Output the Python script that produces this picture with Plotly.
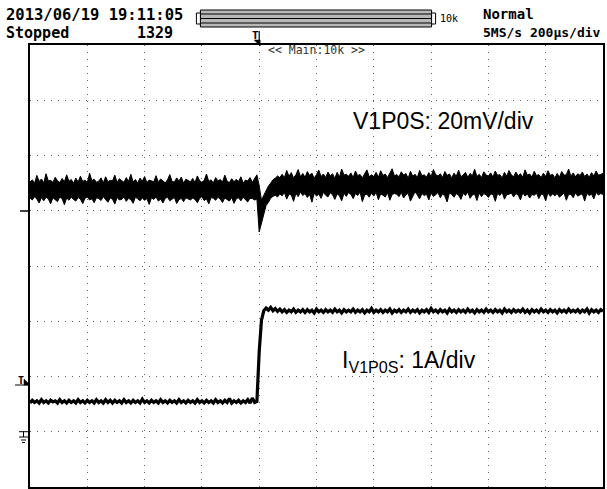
import numpy as np
import plotly.graph_objects as go

# ---------------- data ----------------
# time base: 200 us/div, 10 div, trigger at 4th division (t = 0)
T_START, T_STOP, T_STEP = -800, 1200, 8
time_us = np.arange(T_START, T_STOP + 1, T_STEP)

# V1P0S peak-detect envelope (mV relative to channel marker), 20 mV/div
v1p0s_max_mv = [
    10.4, 11.2, 10.0, 12.8, 10.6, 11.5, 10.1, 13.4, 10.8, 11.0,
    10.3, 12.1, 10.9, 10.2, 11.7, 10.5, 13.0, 10.7, 11.3, 10.0,
    11.8, 10.4, 12.5, 10.6, 11.1, 10.2, 13.6, 10.9, 11.4, 10.3,
    10.7, 11.9, 10.1, 12.3, 10.5, 11.0, 10.8, 12.9, 10.2, 11.6,
    10.9, 10.3, 12.0, 10.6, 13.2, 10.4, 11.3, 10.0, 11.8, 10.7,
    12.4, 10.2, 11.1, 10.8, 10.5, 12.7, 10.3, 11.5, 10.9, 10.1,
    11.2, 13.1, 10.6, 10.4, 11.9, 10.7, 12.2, 10.0, 11.4, 10.8,
    10.5, 11.7, 10.2, 12.6, 10.9, 10.3, 11.0, 13.3, 10.6, 11.2,
    10.1, 12.0, 10.8, 11.3, 10.4, 12.9, 10.7, 10.2, 11.6, 10.5,
    11.4, 10.6, 12.3, 10.0, 11.1, 10.8, 12.0, 10.3, 11.5, 13.0,
    9.0, 3.8, 5.6, 7.4, 8.9, 10.0, 11.2, 11.8, 12.6, 12.0,
    13.2, 12.0, 14.6, 12.5, 13.8, 11.9, 13.0, 14.9, 12.3, 13.5,
    12.1, 14.2, 12.8, 13.6, 11.8, 13.1, 14.7, 12.4, 13.3, 12.0,
    14.0, 12.6, 13.4, 11.7, 13.9, 12.2, 15.1, 12.9, 13.2, 12.5,
    13.7, 12.0, 14.4, 12.7, 13.1, 11.9, 13.6, 14.8, 12.3, 13.0,
    12.4, 13.9, 12.1, 14.5, 12.8, 13.3, 12.0, 13.7, 15.2, 12.6,
    13.1, 12.3, 14.1, 12.9, 13.5, 11.8, 14.3, 12.5, 13.2, 12.0,
    14.6, 12.7, 13.0, 12.2, 13.8, 12.4, 14.9, 13.1, 12.6, 13.4,
    12.0, 14.2, 12.8, 13.3, 11.9, 13.6, 12.5, 14.7, 12.3, 13.0,
    13.9, 12.1, 13.5, 12.7, 15.0, 12.4, 13.2, 12.0, 14.1, 12.9,
    12.6, 13.7, 12.2, 14.4, 12.8, 13.1, 11.9, 13.9, 12.5, 14.6,
    13.0, 12.3, 14.0, 12.6, 13.4, 12.1, 14.8, 12.9, 13.3, 12.2,
    14.3, 12.7, 13.1, 12.0, 13.6, 12.4, 14.5, 12.8, 13.2, 11.9,
    13.5, 12.2, 14.2, 12.9, 13.0, 15.1, 12.5, 13.7, 12.3, 13.4,
    12.8, 14.0, 12.4, 13.3, 12.1, 13.8, 12.6, 14.4, 12.9, 13.1,
    13.6,
]
v1p0s_min_mv = [
    4.6, 3.9, 5.1, 4.2, 2.8, 4.8, 3.6, 4.9, 4.3, 2.5,
    4.7, 4.0, 3.3, 5.0, 4.4, 2.2, 4.6, 3.8, 4.9, 4.1,
    3.5, 4.8, 4.2, 2.6, 4.5, 5.0, 3.9, 4.3, 2.9, 4.7,
    4.4, 3.7, 5.1, 4.0, 3.1, 4.6, 4.2, 2.4, 4.8, 3.9,
    4.1, 5.0, 3.4, 4.5, 4.0, 2.7, 4.9, 4.3, 3.6, 4.6,
    3.8, 4.4, 2.3, 4.7, 4.1, 5.0, 3.5, 4.2, 2.8, 4.5,
    4.9, 3.6, 4.3, 4.8, 2.6, 4.0, 4.5, 3.3, 4.7, 4.2,
    3.9, 4.6, 4.1, 2.9, 4.4, 5.1, 3.7, 4.3, 2.5, 4.8,
    4.5, 3.8, 4.9, 4.2, 3.0, 4.6, 4.1, 3.5, 4.8, 2.7,
    4.3, 4.7, 3.6, 4.9, 4.0, 3.2, 4.5, 4.4, 3.9, 4.2,
    -7.7, -4.2, -0.5, 1.9, 3.0, 4.5, 5.2, 5.6, 5.0, 6.1,
    5.4, 6.6, 4.2, 6.0, 5.7, 3.4, 6.3, 5.1, 6.8, 5.5,
    6.2, 4.8, 5.9, 3.1, 6.4, 5.3, 6.0, 4.5, 6.7, 5.6,
    5.0, 6.5, 5.8, 4.1, 6.1, 5.4, 3.6, 6.3, 5.2, 6.6,
    5.9, 4.4, 6.2, 5.5, 6.8, 3.3, 5.7, 6.0, 4.9, 6.4,
    5.3, 6.7, 4.0, 6.1, 5.6, 5.0, 6.5, 3.8, 5.9, 6.2,
    6.0, 5.1, 6.6, 4.6, 5.8, 6.3, 3.5, 5.4, 6.9, 5.7,
    4.3, 6.2, 5.5, 6.0, 3.9, 6.4, 5.2, 5.8, 6.6, 4.7,
    6.1, 5.3, 3.2, 6.5, 5.9, 4.9, 6.2, 5.6, 4.1, 6.3,
    5.5, 6.8, 4.5, 5.7, 6.0, 3.7, 6.4, 5.1, 6.2, 5.8,
    4.8, 6.1, 5.9, 3.4, 6.3, 5.5, 6.7, 4.2, 5.8, 6.0,
    6.4, 5.0, 6.2, 5.7, 3.9, 6.5, 5.3, 6.1, 4.6, 5.9,
    5.6, 6.3, 4.4, 6.0, 5.8, 3.6, 6.6, 5.2, 6.1, 5.4,
    6.2, 4.9, 5.7, 6.4, 3.8, 5.9, 6.0, 4.7, 6.5, 5.3,
    5.8, 6.1, 3.5, 6.3, 5.5, 6.0, 4.3, 6.6, 5.7, 6.2,
    5.9,
]

# I_V1P0S (A relative to ground marker), 1 A/div
iv1p0s_a = [
    0.52, 0.57, 0.53, 0.56, 0.52, 0.58, 0.53, 0.56, 0.52, 0.57,
    0.54, 0.56, 0.52, 0.58, 0.53, 0.56, 0.52, 0.57, 0.53, 0.56,
    0.52, 0.58, 0.53, 0.56, 0.52, 0.57, 0.53, 0.56, 0.52, 0.58,
    0.53, 0.56, 0.52, 0.58, 0.53, 0.57, 0.52, 0.57, 0.53, 0.56,
    0.52, 0.58, 0.53, 0.56, 0.52, 0.57, 0.53, 0.56, 0.52, 0.59,
    0.53, 0.56, 0.52, 0.57, 0.53, 0.56, 0.52, 0.58, 0.53, 0.56,
    0.52, 0.57, 0.53, 0.56, 0.52, 0.58, 0.53, 0.56, 0.52, 0.57,
    0.53, 0.56, 0.52, 0.58, 0.53, 0.56, 0.52, 0.57, 0.53, 0.56,
    0.52, 0.58, 0.53, 0.56, 0.52, 0.57, 0.53, 0.60, 0.52, 0.56,
    0.53, 0.57, 0.52, 0.56, 0.53, 0.58, 0.52, 0.61, 0.53, 0.55,
    1.45, 2.02, 2.19, 2.24, 2.20, 2.25, 2.19, 2.23, 2.18, 2.22,
    2.17, 2.21, 2.16, 2.20, 2.17, 2.22, 2.16, 2.20, 2.17, 2.21,
    2.16, 2.21, 2.17, 2.20, 2.15, 2.22, 2.17, 2.20, 2.16, 2.21,
    2.17, 2.20, 2.16, 2.22, 2.17, 2.20, 2.15, 2.21, 2.17, 2.20,
    2.17, 2.22, 2.16, 2.20, 2.17, 2.21, 2.15, 2.20, 2.17, 2.23,
    2.16, 2.20, 2.17, 2.21, 2.16, 2.20, 2.17, 2.22, 2.15, 2.20,
    2.17, 2.21, 2.16, 2.20, 2.17, 2.22, 2.16, 2.20, 2.17, 2.21,
    2.15, 2.20, 2.17, 2.21, 2.16, 2.23, 2.17, 2.20, 2.16, 2.21,
    2.17, 2.20, 2.15, 2.22, 2.17, 2.20, 2.16, 2.21, 2.17, 2.20,
    2.16, 2.22, 2.17, 2.20, 2.15, 2.21, 2.17, 2.20, 2.16, 2.22,
    2.17, 2.20, 2.16, 2.21, 2.17, 2.20, 2.15, 2.22, 2.17, 2.20,
    2.16, 2.21, 2.17, 2.20, 2.17, 2.22, 2.16, 2.20, 2.15, 2.21,
    2.17, 2.20, 2.16, 2.22, 2.17, 2.20, 2.16, 2.21, 2.17, 2.20,
    2.15, 2.21, 2.17, 2.20, 2.16, 2.22, 2.17, 2.20, 2.17, 2.21,
    2.16, 2.20, 2.17, 2.22, 2.15, 2.21, 2.17, 2.20, 2.16, 2.21,
    2.18,
]

V_SCALE_MV = 20.0     # mV/div
I_SCALE_A = 1.0       # A/div
V_MARKER_DIV = 5.0    # channel-1 zero marker (divisions from bottom)
I_GROUND_DIV = 1.0    # channel-2 ground marker (divisions from bottom)

header_date = "2013/06/19 19:11:05"
header_state = "Stopped"
header_count = "1329"
header_mode = "Normal"
header_rate = "5MS/s 200µs/div"
label_v = "V1P0S: 20mV/div"
label_i = "I<sub>V1P0S</sub>: 1A/div"

# ---------------- figure ----------------
W, H = 607, 489
ML, MR, MT, MB = 30, 2, 45, 2


def px(x):
    return (x - ML) / (W - ML - MR)


def py(y):
    return (H - MB - y) / (H - MT - MB)


v_hi_div = V_MARKER_DIV + np.array(v1p0s_max_mv) / V_SCALE_MV
v_lo_div = V_MARKER_DIV + np.array(v1p0s_min_mv) / V_SCALE_MV
i_div = I_GROUND_DIV + np.array(iv1p0s_a) / I_SCALE_A

fig = go.Figure()
fig.add_trace(go.Scatter(x=time_us, y=v_hi_div, mode="lines",
                         line=dict(color="black", width=1.0), showlegend=False))
fig.add_trace(go.Scatter(x=time_us, y=v_lo_div, mode="lines", fill="tonexty",
                         fillcolor="black",
                         line=dict(color="black", width=1.0), showlegend=False))
fig.add_trace(go.Scatter(x=time_us, y=i_div, mode="lines",
                         line=dict(color="black", width=3.2), showlegend=False))

axis_common = dict(showticklabels=False, ticks="", zeroline=False,
                   showline=True, linecolor="black", linewidth=1.5, mirror=True,
                   showgrid=True, gridcolor="#606060", gridwidth=1,
                   griddash="1px,6px")
fig.update_xaxes(range=[T_START, T_STOP], dtick=200, tick0=T_START, **axis_common)
fig.update_yaxes(range=[0, 8], dtick=1, tick0=0, **axis_common)

mono = "DejaVu Sans Mono"
ann = []


def txt(x, y, s, size, xanchor="left", family=mono, color="black", bold=True):
    ann.append(dict(x=px(x), y=py(y), xref="paper", yref="paper", text=(f"<b>{s}</b>" if bold else s),
                    showarrow=False, xanchor=xanchor, yanchor="middle",
                    font=dict(family=family, size=size, color=color)))


txt(4, 15, header_date, 15.5)
txt(4, 33, header_state, 15)
txt(135, 33, header_count, 15)
txt(483, 14, header_mode, 14)
txt(483, 32, header_rate, 13)
txt(439, 18.5, "10k", 10, bold=False)
txt(317, 50, "&lt;&lt; Main:10k &gt;&gt;", 11.5, xanchor="center", color="#333", bold=False)
txt(256, 35, "T", 11, xanchor="center")
txt(21, 380, "T", 10, xanchor="center")
txt(445, 121, label_v, 23, xanchor="center", family="Liberation Sans", bold=False)
txt(410, 361, label_i, 23, xanchor="center", family="Liberation Sans", bold=False)

shapes = []


def rect(x0, y0, x1, y1, fill="white", lw=1, color="black"):
    shapes.append(dict(type="rect", xref="paper", yref="paper",
                       x0=px(x0), x1=px(x1), y0=py(y0), y1=py(y1),
                       line=dict(color=color, width=lw), fillcolor=fill))


def line(x0, y0, x1, y1, lw=1, color="black"):
    shapes.append(dict(type="line", xref="paper", yref="paper",
                       x0=px(x0), x1=px(x1), y0=py(y0), y1=py(y1),
                       line=dict(color=color, width=lw)))


def tri(pts):
    path = "M " + " L ".join(f"{px(a)},{py(b)}" for a, b in pts) + " Z"
    shapes.append(dict(type="path", xref="paper", yref="paper", path=path,
                       fillcolor="black", line=dict(color="black", width=0.5)))


# record-length bar
rect(201, 10, 433, 27, fill="#b8b8b8")
for yy in (14, 18.5, 23):
    line(201, yy, 433, yy, lw=1.2)
rect(197, 13, 201, 24)
rect(433, 13, 437, 24)

# trigger position marker (top)
line(260, 31, 260, 44, lw=1.2)
tri([(255, 40), (261, 40), (261, 46)])

# left markers
line(20, 211, 30, 211, lw=1.5)              # CH1 marker
line(15, 385, 28, 385, lw=1)                # trigger level marker
tri([(24, 379), (30, 385), (24, 385)])
# ground symbol (CH2)
line(19, 431.7, 29, 431.7, lw=1)
line(23.5, 431.7, 23.5, 437, lw=1)
line(19, 437, 28, 437, lw=1)
line(21, 440, 26, 440, lw=1)
line(22, 442.5, 25, 442.5, lw=1)

fig.update_layout(width=W, height=H, margin=dict(l=ML, r=MR, t=MT, b=MB),
                  paper_bgcolor="white", plot_bgcolor="white",
                  annotations=ann, shapes=shapes)

fig.write_html("out.html", config={"displayModeBar": False},
               post_script="document.body.style.margin='0';document.body.style.padding='0';")
